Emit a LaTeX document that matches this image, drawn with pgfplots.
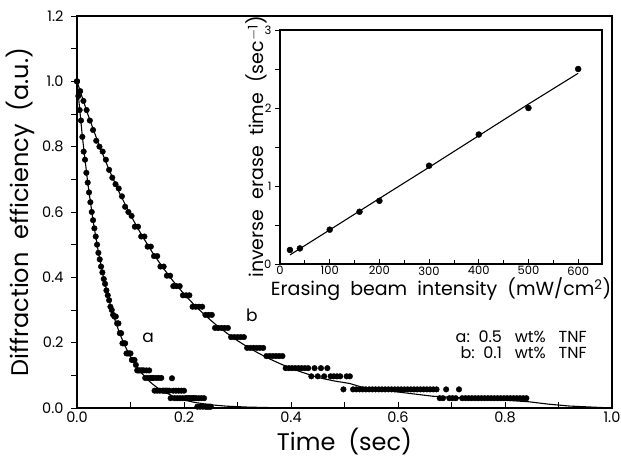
\documentclass[border=0pt]{standalone}
\usepackage{fontspec}
\setmainfont{Poppins}
\usepackage{pgfplots}
\pgfplotsset{compat=1.18}
\begin{document}
\begin{tikzpicture}
\useasboundingbox (-77pt,-50pt) rectangle (544pt,408pt);
\begin{axis}[
  at={(0pt,0pt)}, anchor=south west,
  scale only axis, width=535pt, height=392pt,
  xmin=0, xmax=1, ymin=0, ymax=1.2,
  xtick={0,0.2,0.4,0.6,0.8,1.0}, minor xtick={0.1,0.3,0.5,0.7,0.9},
  ytick={0,0.2,0.4,0.6,0.8,1.0,1.2}, minor ytick={0.1,0.3,0.5,0.7,0.9,1.1},
  xticklabels={0.0,0.2,0.4,0.6,0.8,1.0},
  yticklabels={0.0,0.2,0.4,0.6,0.8,1.0,1.2},
  tick pos=left, tick align=inside,
  major tick length=6pt, minor tick length=6pt,
  every tick/.style={black, line width=0.9pt},
  ytick style={xshift=-6pt},
  axis line style={line width=1.3pt},
  ticklabel style={font=\fontsize{14.5}{16}\selectfont},
  yticklabel style={xshift=-10pt},
  xlabel={Time\ \ (sec)},
  ylabel={Diffraction\ \ efficiency\ \ (a.u.)},
  label style={font=\fontsize{24}{28}\selectfont},
  xlabel style={at={(axis description cs:0.5,-0.085)}, anchor=center},
  ylabel style={at={(axis description cs:-0.105,0.5)}, anchor=center, rotate=0},
  clip=false,
]
% curve a data
\addplot[only marks, mark=*, mark size=2.8pt, black] coordinates {
(0,1.0)(0.0025,0.955)(0.005,0.912)(0.0075,0.88)(0.010,0.83)(0.0125,0.785)(0.015,0.76)(0.0175,0.72)
(0.020,0.69)(0.0225,0.66)(0.025,0.63)(0.0275,0.60)(0.030,0.575)(0.0325,0.55)(0.035,0.525)(0.0375,0.50)
(0.040,0.475)(0.0425,0.455)(0.045,0.433)(0.0475,0.415)(0.050,0.395)(0.0525,0.38)(0.055,0.36)(0.0575,0.345)
(0.060,0.33)(0.0625,0.31)(0.065,0.30)(0.0675,0.285)(0.070,0.28)(0.0725,0.28)(0.075,0.259)(0.0775,0.259)
(0.080,0.229)(0.0825,0.229)(0.085,0.198)(0.0875,0.198)(0.090,0.198)(0.0925,0.167)(0.095,0.167)(0.0975,0.167)
(0.100,0.167)(0.1025,0.147)(0.105,0.147)(0.1075,0.147)(0.110,0.132)(0.1125,0.115)(0.115,0.115)(0.1175,0.115)
(0.120,0.115)(0.1225,0.115)(0.125,0.115)(0.1275,0.092)(0.130,0.115)(0.1325,0.092)(0.135,0.115)(0.1375,0.092)
(0.140,0.092)(0.1425,0.092)(0.145,0.053)(0.1475,0.092)(0.150,0.053)(0.1525,0.092)(0.155,0.053)(0.1575,0.092)
(0.160,0.053)(0.1625,0.053)(0.165,0.053)(0.1675,0.053)(0.170,0.053)(0.1725,0.053)(0.175,0.03)(0.1775,0.091)
(0.180,0.053)(0.1825,0.03)(0.185,0.053)(0.1875,0.03)(0.190,0.053)(0.1925,0.03)(0.195,0.053)(0.1975,0.03)
(0.200,0.053)(0.2025,0.03)(0.205,0.03)(0.2075,0.03)(0.210,0.03)(0.2125,0.03)(0.215,0.03)(0.2175,0.03)
(0.220,0.03)(0.2225,0.03)(0.225,0.004)(0.2275,0.03)(0.230,0.004)(0.2325,0.03)(0.235,0.004)(0.2375,0.03)
(0.240,0.004)(0.2425,0.004)(0.245,0.004)(0.2475,0.004)(0.250,0.004)
};
% curve b data
\addplot[only marks, mark=*, mark size=2.8pt, black] coordinates {
(0.000,1.0)(0.006,0.97)(0.012,0.94)(0.018,0.912)(0.024,0.88)(0.030,0.851)(0.036,0.818)(0.042,0.80)
(0.048,0.785)(0.054,0.76)(0.060,0.729)(0.066,0.705)(0.072,0.685)(0.078,0.672)(0.084,0.648)(0.090,0.616)
(0.096,0.60)(0.102,0.588)(0.108,0.555)(0.114,0.555)(0.120,0.525)(0.126,0.525)(0.132,0.494)(0.138,0.494)
(0.144,0.465)(0.150,0.465)(0.156,0.433)(0.162,0.433)(0.168,0.405)(0.174,0.405)(0.180,0.373)(0.186,0.373)
(0.192,0.373)(0.198,0.345)(0.204,0.345)(0.210,0.345)(0.216,0.31)(0.222,0.31)(0.228,0.31)(0.234,0.31)
(0.240,0.285)(0.246,0.285)(0.252,0.285)(0.258,0.245)(0.264,0.245)(0.270,0.245)(0.276,0.245)(0.282,0.245)
(0.288,0.217)(0.294,0.217)(0.300,0.217)(0.306,0.217)(0.312,0.217)(0.318,0.184)(0.324,0.184)(0.330,0.184)
(0.336,0.184)(0.342,0.184)(0.348,0.184)(0.354,0.159)(0.360,0.159)(0.366,0.159)(0.372,0.159)(0.378,0.159)
(0.384,0.159)(0.390,0.122)(0.396,0.122)(0.402,0.122)(0.408,0.122)(0.414,0.122)(0.420,0.122)(0.426,0.122)
(0.432,0.122)(0.438,0.097)(0.444,0.122)(0.450,0.097)(0.456,0.122)(0.462,0.097)(0.468,0.122)(0.474,0.097)
(0.480,0.097)(0.486,0.097)(0.492,0.097)(0.498,0.057)(0.504,0.097)(0.510,0.097)(0.516,0.057)(0.522,0.057)
(0.528,0.057)(0.534,0.057)(0.540,0.057)(0.546,0.057)(0.552,0.057)(0.558,0.057)(0.564,0.057)(0.570,0.057)
(0.576,0.057)(0.582,0.057)(0.588,0.057)(0.594,0.057)(0.600,0.057)(0.606,0.057)(0.612,0.057)(0.618,0.057)
(0.624,0.057)(0.630,0.057)(0.636,0.057)(0.642,0.057)(0.648,0.057)(0.654,0.057)(0.660,0.057)(0.666,0.057)
(0.672,0.057)(0.678,0.030)(0.684,0.030)(0.690,0.057)(0.696,0.030)(0.702,0.030)(0.708,0.030)(0.714,0.057)
(0.720,0.030)(0.726,0.030)(0.732,0.030)(0.738,0.030)(0.744,0.030)(0.750,0.030)(0.756,0.030)(0.762,0.030)
(0.768,0.030)(0.774,0.030)(0.780,0.030)(0.786,0.030)(0.792,0.030)(0.798,0.030)(0.804,0.030)(0.810,0.030)
(0.816,0.030)(0.822,0.030)(0.828,0.030)(0.834,0.030)(0.840,0.030)
};
% fit a
\addplot[black, line width=1.1pt] coordinates {
(0,1)(0.01,0.831)(0.02,0.6905)(0.03,0.5738)(0.04,0.4768)(0.05,0.3962)(0.06,0.3292)(0.07,0.2736)
(0.08,0.2273)(0.09,0.1889)(0.10,0.157)(0.11,0.1304)(0.12,0.1084)(0.13,0.0901)(0.14,0.0748)(0.15,0.0622)
(0.16,0.0517)(0.18,0.0357)(0.20,0.0246)(0.22,0.017)(0.25,0.0098)(0.28,0.0056)(0.32,0.0027)(0.36,0.0013)(0.40,0.0006)
};
% fit b
\addplot[black, line width=1.1pt] coordinates {
(0,1)(0.02,0.9001)(0.04,0.8102)(0.06,0.7292)(0.08,0.6564)(0.10,0.5908)(0.12,0.5318)(0.14,0.4786)
(0.16,0.4308)(0.18,0.3878)(0.20,0.349)(0.22,0.3141)(0.24,0.2828)(0.26,0.2545)(0.28,0.2291)(0.30,0.2062)
(0.32,0.1856)(0.34,0.1671)(0.36,0.1504)(0.38,0.1353)(0.40,0.1218)(0.42,0.1097)(0.45,0.0937)(0.48,0.083)
(0.51,0.075)(0.53,0.065)(0.57,0.055)(0.60,0.049)(0.665,0.036)(0.73,0.03)(0.80,0.024)(0.845,0.019)
(0.88,0.012)(0.92,0.006)(1.0,0.0)
};
\node[font=\fontsize{17}{17}\selectfont] at (axis cs:0.133,0.214) {a};
\node[font=\fontsize{17}{17}\selectfont] at (axis cs:0.327,0.285) {b};
\node[font=\fontsize{16}{15.5}\selectfont, align=right, anchor=east, inner sep=0pt] at (axis cs:0.953,0.194)
  {a:\ \ 0.5\ \ \ wt\%\ \ \ TNF\\ b:\ \ 0.1\ \ \ wt\%\ \ \ TNF};
\end{axis}
\begin{axis}[
  at={(203pt,144pt)}, anchor=south west,
  scale only axis, width=322pt, height=234pt,
  xmin=0, xmax=648, ymin=0, ymax=3,
  xtick={0,100,200,300,400,500,600}, minor xtick={50,150,250,350,450,550},
  ytick={0,1,2,3}, minor ytick={0.5,1.5,2.5},
  tick pos=left, tick align=inside,
  major tick length=5pt, minor tick length=4pt,
  every tick/.style={black, line width=0.8pt},
  ytick style={xshift=-5pt},
  axis line style={line width=1.2pt},
  ticklabel style={font=\fontsize{11.5}{12}\selectfont},
  yticklabel style={xshift=-5pt},
  xticklabel style={yshift=1pt},
  xlabel={Erasing\ \ beam\ \ intensity\ \ (mW/cm\textsuperscript{2})},
  ylabel={inverse\ \ erase\ \ time\ \ (sec\textsuperscript{$-$1})},
  label style={font=\fontsize{19}{22}\selectfont},
  xlabel style={at={(axis description cs:0.5,-0.107)}, anchor=center},
  ylabel style={at={(axis description cs:-0.072,0.5)}, anchor=center},
  /pgf/number format/assume math mode=true,
]
\addplot[only marks, mark=*, mark size=3pt, black] coordinates {
(20,0.18)(40,0.20)(100,0.44)(160,0.67)(200,0.81)(300,1.26)(400,1.66)(500,2.0)(600,2.5)
};
\addplot[black, line width=1.1pt] coordinates {
(20,0.116)(100,0.437)(200,0.84)(300,1.24)(400,1.645)(500,2.05)(600,2.445)
};
\end{axis}
\end{tikzpicture}
\end{document}
